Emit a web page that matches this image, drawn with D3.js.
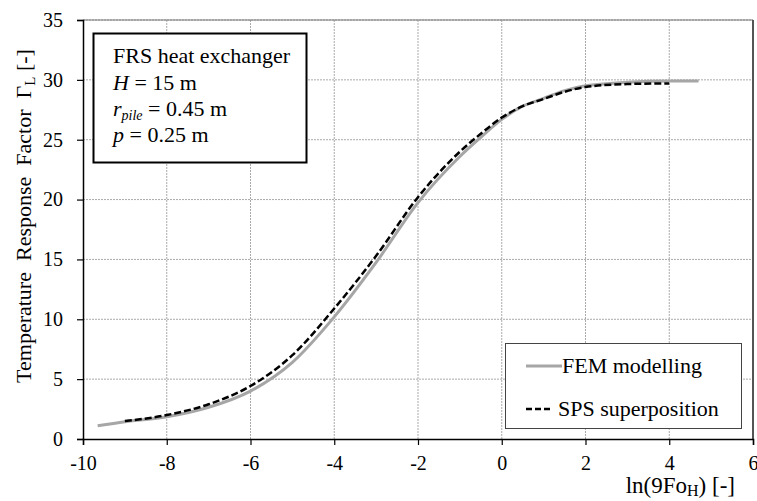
<!DOCTYPE html>
<html>
<head>
<meta charset="utf-8">
<script src="https://cdn.jsdelivr.net/npm/d3@7"></script>
<style>
  body { margin: 0; background: #fff; }
  text { font-family: "Liberation Serif", "Times New Roman", serif; }
</style>
</head>
<body>
<script>
const width = 757;
const height = 501;
const margin = { top: 20, right: 4, bottom: 62, left: 83 };

// FEM modelling (solid grey)
const femX = [-9.65, -9, -8, -7, -6, -5, -4, -3, -2, -1, -0.5, 0, 0.5, 1, 1.5, 2, 3, 4, 4.7];
const femY = [1.1, 1.45, 1.86, 2.65, 4.0, 6.4, 10.2, 14.75, 19.75, 23.6, 25.2, 26.7, 27.8, 28.45, 29.1, 29.5, 29.8, 29.9, 29.9];

// SPS superposition (dashed black)
const spsX = [-9, -8, -7, -6, -5, -4, -3, -2, -1, -0.5, 0, 0.5, 1, 1.5, 2, 3, 4];
const spsY = [1.5, 2.0, 2.9, 4.43, 7.0, 10.9, 15.3, 20.2, 24.0, 25.5, 26.85, 27.8, 28.4, 29.0, 29.4, 29.65, 29.7];

const xTicks = [-10, -8, -6, -4, -2, 0, 2, 4, 6];
const yTicks = [0, 5, 10, 15, 20, 25, 30, 35];

const svg = d3.select('body').append('svg')
  .attr('width', width)
  .attr('height', height);

const x = d3.scaleLinear().domain([-10, 6]).range([margin.left, width - margin.right]);
const y = d3.scaleLinear().domain([0, 35]).range([height - margin.bottom, margin.top]);

// griglia
svg.append('g').selectAll('line')
  .data(xTicks.slice(1))
  .enter().append('line')
  .attr('x1', d => x(d)).attr('x2', d => x(d))
  .attr('y1', y(0)).attr('y2', y(35))
  .attr('stroke', '#aaa').attr('stroke-width', 1)
  .attr('stroke-dasharray', '2,1');

svg.append('g').selectAll('line')
  .data(yTicks.slice(1))
  .enter().append('line')
  .attr('x1', x(-10)).attr('x2', x(6))
  .attr('y1', d => y(d)).attr('y2', d => y(d))
  .attr('stroke', '#aaa').attr('stroke-width', 1)
  .attr('stroke-dasharray', '2,1');

// bordo
svg.append('line')
  .attr('x1', x(-10)).attr('x2', x(6))
  .attr('y1', y(35)).attr('y2', y(35))
  .attr('stroke', '#777').attr('stroke-width', 1);
svg.append('line')
  .attr('x1', x(6)).attr('x2', x(6))
  .attr('y1', y(35)).attr('y2', y(0))
  .attr('stroke', '#555').attr('stroke-width', 2);

// assi
const xAxis = svg.append('g')
  .attr('transform', `translate(0,${y(0)})`)
  .call(d3.axisBottom(x).tickValues(xTicks).tickSize(6).tickPadding(11).tickFormat(d3.format('d')));
const yAxis = svg.append('g')
  .attr('transform', `translate(${x(-10)},0)`)
  .call(d3.axisLeft(y).tickValues(yTicks).tickSize(6).tickPadding(14));

[xAxis, yAxis].forEach(g => {
  g.select('.domain').attr('stroke', '#000').attr('stroke-width', 1.5);
  g.selectAll('.tick line').attr('stroke', '#000').attr('stroke-width', 1.2);
  g.selectAll('.tick text')
    .attr('font-family', '"Liberation Serif", serif')
    .attr('font-size', 20).attr('fill', '#000');
});
xAxis.selectAll('.tick text').text(d => d < 0 ? '-' + Math.abs(d) : d);

// curve
const line = d3.line()
  .x(d => x(d[0]))
  .y(d => y(d[1]))
  .curve(d3.curveMonotoneX);

svg.append('path')
  .datum(femX.map((v, i) => [v, femY[i]]))
  .attr('d', line)
  .attr('fill', 'none')
  .attr('stroke', '#a6a6a6')
  .attr('stroke-width', 3);

svg.append('path')
  .datum(spsX.map((v, i) => [v, spsY[i]]))
  .attr('d', line)
  .attr('fill', 'none')
  .attr('stroke', '#000')
  .attr('stroke-width', 2.5)
  .attr('stroke-dasharray', '7,3');

// riquadro parametri
svg.append('rect')
  .attr('x', 93.5).attr('y', 33.5).attr('width', 213).attr('height', 129)
  .attr('fill', '#fff').attr('stroke', '#000').attr('stroke-width', 2);

const info = svg.append('g').attr('font-size', 22).attr('fill', '#000');
info.append('text').attr('x', 113).attr('y', 63).text('FRS heat exchanger');
const t1 = info.append('text').attr('x', 113).attr('y', 90);
t1.append('tspan').attr('font-style', 'italic').text('H');
t1.append('tspan').text(' = 15 m');
const t2 = info.append('text').attr('x', 113).attr('y', 116);
t2.append('tspan').attr('font-style', 'italic').text('r');
t2.append('tspan').attr('font-style', 'italic').attr('font-size', 14).attr('dy', 4).text('pile');
t2.append('tspan').attr('dy', -4).text(' = 0.45 m');
const t3 = info.append('text').attr('x', 113).attr('y', 142);
t3.append('tspan').attr('font-style', 'italic').text('p');
t3.append('tspan').text(' = 0.25 m');

// legenda
svg.append('rect')
  .attr('x', 505.5).attr('y', 343.5).attr('width', 236).attr('height', 85)
  .attr('fill', '#fff').attr('stroke', '#444').attr('stroke-width', 1);
svg.append('line')
  .attr('x1', 526).attr('x2', 562).attr('y1', 366).attr('y2', 366)
  .attr('stroke', '#a6a6a6').attr('stroke-width', 3);
svg.append('text').attr('x', 562).attr('y', 373).attr('font-size', 22).text('FEM modelling');
svg.append('line')
  .attr('x1', 526).attr('x2', 553).attr('y1', 409).attr('y2', 409)
  .attr('stroke', '#000').attr('stroke-width', 2.5).attr('stroke-dasharray', '6,3');
svg.append('text').attr('x', 558).attr('y', 416).attr('font-size', 22).text('SPS superposition');

// titoli assi
const yl = svg.append('text')
  .attr('transform', 'translate(31,216) rotate(-90)')
  .attr('text-anchor', 'middle')
  .attr('font-size', 22)
  .style('white-space', 'pre');
yl.append('tspan').text('Temperature  Response  Factor  Γ');
yl.append('tspan').attr('font-size', 15).attr('dy', 4).text('L');
yl.append('tspan').attr('dy', -4).text(' [-]');

const xl = svg.append('text')
  .attr('x', 735).attr('y', 493)
  .attr('text-anchor', 'end')
  .attr('font-size', 23);
xl.append('tspan').text('ln(9Fo');
xl.append('tspan').attr('font-size', 16).attr('dy', 3).text('H');
xl.append('tspan').attr('dy', -3).text(') [-]');
</script>
</body>
</html>
